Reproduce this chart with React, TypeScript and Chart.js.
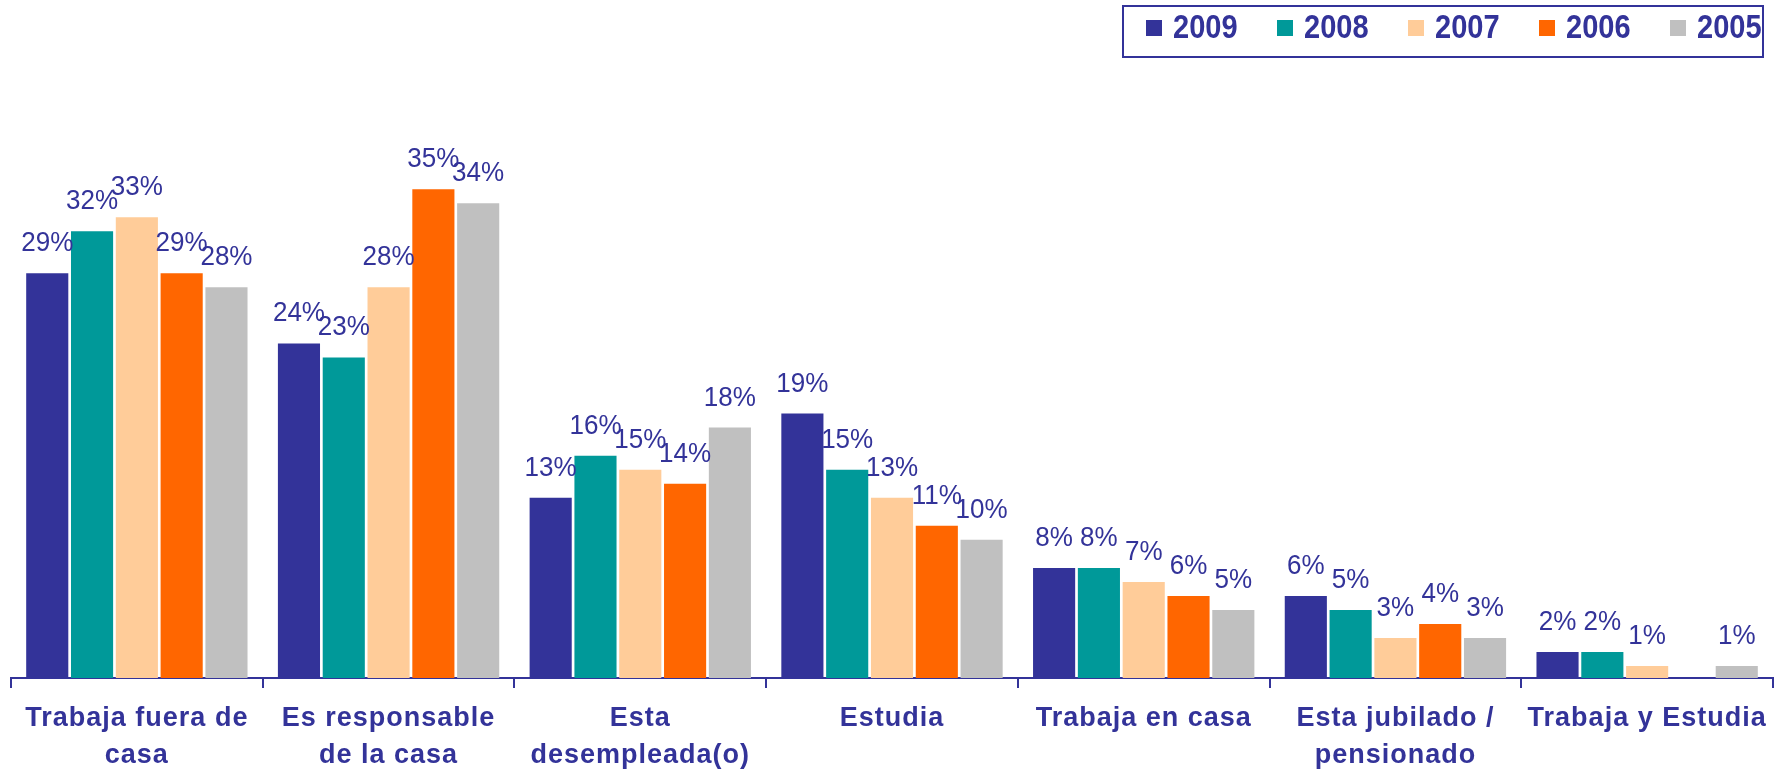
import React, { useEffect, useRef } from "react";
import { Chart, registerables } from "chart.js";

Chart.register(...registerables);

const categories: (string | string[])[] = [
  ["Trabaja fuera de", "casa"],
  ["Es responsable", "de la casa"],
  ["Esta", "desempleada(o)"],
  "Estudia",
  "Trabaja en casa",
  ["Esta jubilado /", "pensionado"],
  "Trabaja y Estudia",
];

const years = ["2009", "2008", "2007", "2006", "2005"];
const colors = ["#333399", "#009999", "#FFCC99", "#FF6600", "#C0C0C0"];

const v2009 = [29, 24, 13, 19, 8, 6, 2];
const v2008 = [32, 23, 16, 15, 8, 5, 2];
const v2007 = [33, 28, 15, 13, 7, 3, 1];
const v2006 = [29, 35, 14, 11, 6, 4, 0];
const v2005 = [28, 34, 18, 10, 5, 3, 1];

const series = [v2009, v2008, v2007, v2006, v2005];

const BLUE = "#333399";
const FAMILY = "'Liberation Sans', Arial, Helvetica, sans-serif";

const labelsPlugin = {
  id: "customLabels",
  beforeDraw(chart: any) {
    (chart.ctx as any).letterSpacing = "1px";
  },
  afterDraw(chart: any) {
    const ctx = chart.ctx as any;
    ctx.save();
    ctx.letterSpacing = "0px";
    // data labels
    ctx.fillStyle = BLUE;
    ctx.font = `28px ${FAMILY}`;
    ctx.textAlign = "center";
    ctx.textBaseline = "alphabetic";
    chart.data.datasets.forEach((ds: any, di: number) => {
      const meta = chart.getDatasetMeta(di);
      meta.data.forEach((bar: any, i: number) => {
        const v = ds.data[i];
        if (!v) return;
        ctx.save();
        ctx.translate(bar.x, bar.y - 22);
        ctx.scale(0.93, 1);
        ctx.fillText(v + "%", 0, 0);
        ctx.restore();
      });
    });
    // legend
    const bx = 1123, by = 6, bw = 640, bh = 51;
    ctx.strokeStyle = BLUE;
    ctx.lineWidth = 2;
    ctx.strokeRect(bx, by, bw, bh);
    ctx.font = `bold 33px ${FAMILY}`;
    ctx.textAlign = "left";
    ctx.textBaseline = "middle";
    chart.data.datasets.forEach((ds: any, di: number) => {
      const x0 = 1146 + di * 131;
      ctx.fillStyle = ds.backgroundColor;
      ctx.fillRect(x0, 20, 16, 16);
      ctx.fillStyle = BLUE;
      ctx.save();
      ctx.translate(x0 + 27, 29);
      ctx.scale(0.88, 1);
      ctx.fillText(ds.label, 0, 0);
      ctx.restore();
    });
    ctx.restore();
  },
};

export default function App() {
  const ref = useRef<HTMLCanvasElement>(null);
  useEffect(() => {
    if (!ref.current) return;
    const chart = new Chart(ref.current, {
      type: "bar",
      data: {
        labels: categories,
        datasets: years.map((y, i) => ({
          label: y,
          data: series[i],
          backgroundColor: colors[i],
          borderWidth: 0,
          categoryPercentage: 0.89,
          barPercentage: 0.94,
        })),
      },
      options: {
        animation: false,
        responsive: false,
        devicePixelRatio: 1,
        layout: { padding: { top: 119, left: 11, right: 2, bottom: 0 } },
        plugins: {
          legend: { display: false },
          tooltip: { enabled: false },
        },
        scales: {
          x: {
            grid: {
              offset: true,
              drawOnChartArea: false,
              drawTicks: true,
              tickLength: 10,
              color: BLUE,
              lineWidth: 2,
            },
            border: { display: true, color: BLUE, width: 2 },
            ticks: {
              color: BLUE,
              font: { family: FAMILY, size: 27, weight: "bold", lineHeight: 1.37 },
              padding: 12,
              maxRotation: 0,
              minRotation: 0,
              autoSkip: false,
            },
            afterFit: (s: any) => {
              s.height = 95;
            },
          },
          y: {
            display: false,
            min: 0.15,
            max: 40,
          },
        },
      },
      plugins: [labelsPlugin],
    } as any);
    return () => chart.destroy();
  }, []);
  return (
    <div style={{ position: "fixed", left: 0, top: 0, width: 1775, height: 773, background: "#fff" }}>
      <canvas ref={ref} width={1775} height={773} style={{ width: 1775, height: 773, display: "block" }} />
    </div>
  );
}
